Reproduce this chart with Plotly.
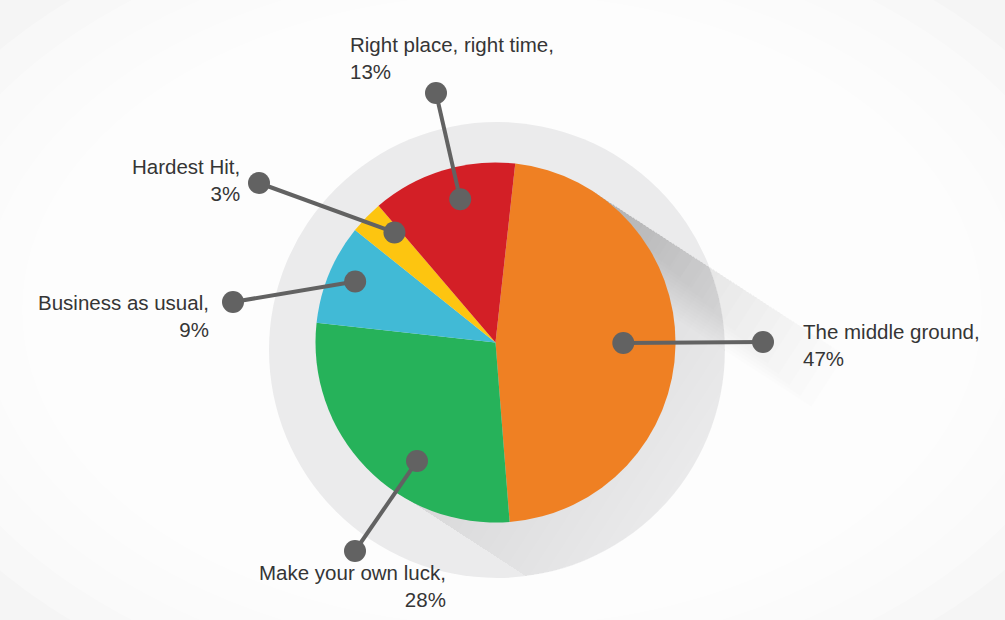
import math
import plotly.graph_objects as go

W, H = 1005, 620

# ---- data ----
labels = ["The middle ground", "Make your own luck", "Business as usual", "Hardest Hit", "Right place, right time"]
values = [47, 28, 9, 3, 13]
colors = ["#EF8023", "#26B25A", "#41BAD6", "#FDC510", "#D31F26"]

# ---- layout / styling ----
CX, CY, R = 495.5, 342.5, 180          # pie centre / radius in px
ROTATION = 6.3
DISC_CX, DISC_CY, DISC_R = 497, 350, 228
SHADOW_ANGLE = 33
anchor_frac = [0.496, 0.377, 0.53, 0.81, 0.57]   # where inside each slice the leader starts
anchor_rad = [0.71, 0.79, 0.85, 0.83, 0.82]
outer_pts = [(763, 342), (355, 551), (233, 302), (259, 183), (436, 93)]
label_pos = [(801, 345, "left"), (448, 586, "right"), (211, 316, "right"), (242, 180, "right"), (348, 58, "left")]
DOT = 11
LINE_COL = "#626262"
TEXT_COL = "#353535"


def px(x):
    return x / W


def py(y):
    return 1 - y / H


def circle(cx, cy, r, color, layer="below"):
    return dict(type="circle", xref="paper", yref="paper",
                x0=px(cx - r), x1=px(cx + r), y0=py(cy + r), y1=py(cy - r),
                fillcolor=color, line=dict(width=0), layer=layer)


def poly_path(pts):
    return "M " + " L ".join(f"{px(x):.5f},{py(y):.5f}" for x, y in pts) + " Z"


def area(p):
    return sum(p[i][0] * p[(i + 1) % len(p)][1] - p[(i + 1) % len(p)][0] * p[i][1] for i in range(len(p))) / 2


def clip(subject, clipper):
    """Sutherland-Hodgman clipping of subject by convex clipper."""
    sgn = 1 if area(clipper) > 0 else -1

    def inside(p, a, b):
        return sgn * ((b[0] - a[0]) * (p[1] - a[1]) - (b[1] - a[1]) * (p[0] - a[0])) >= 0

    def inter(p, q, a, b):
        x1, y1, x2, y2 = p[0], p[1], q[0], q[1]
        x3, y3, x4, y4 = a[0], a[1], b[0], b[1]
        den = (x1 - x2) * (y3 - y4) - (y1 - y2) * (x3 - x4)
        t = ((x1 - x3) * (y3 - y4) - (y1 - y3) * (x3 - x4)) / den
        return (x1 + t * (x2 - x1), y1 + t * (y2 - y1))

    out = subject
    for i in range(len(clipper)):
        a, b = clipper[i], clipper[(i + 1) % len(clipper)]
        inp, out = out, []
        if not inp:
            break
        s = inp[-1]
        for e in inp:
            if inside(e, a, b):
                if not inside(s, a, b):
                    out.append(inter(s, e, a, b))
                out.append(e)
            elif inside(s, a, b):
                out.append(inter(s, e, a, b))
            s = e
    return out


shapes = []
# vignette
for k in range(6):
    rx = 640 - 40 * k
    ry = 420 - 26 * k
    shapes.append(dict(type="circle", xref="paper", yref="paper",
                       x0=px(502 - rx), x1=px(502 + rx), y0=py(310 + ry), y1=py(310 - ry),
                       fillcolor="rgba(255,255,255,0.3)", line=dict(width=0), layer="below"))
# grey disc
shapes.append(circle(DISC_CX, DISC_CY, DISC_R, "#EBEBEC"))

# long shadow
th = math.radians(SHADOW_ANGLE)
dx, dy = math.cos(th), math.sin(th)
nx, ny = -math.sin(th), math.cos(th)
tux, tuy = CX + R * math.sin(th), CY - R * math.cos(th)
tlx, tly = CX - R * math.sin(th), CY + R * math.cos(th)
disc_poly = [(DISC_CX + DISC_R * math.cos(2 * math.pi * j / 180),
              DISC_CY + DISC_R * math.sin(2 * math.pi * j / 180)) for j in range(180)]
N = 20
# part cast on the grey disc
for k in range(1, N + 1):
    L = 240 * k / N
    band = [(tux, tuy), (tux + L * dx, tuy + L * dy), (tlx + L * dx, tly + L * dy), (tlx, tly)]
    pts = clip(disc_poly, band)
    if len(pts) > 2:
        shapes.append(dict(type="path", xref="paper", yref="paper", path=poly_path(pts),
                           fillcolor="rgba(0,0,0,0.0058)", line=dict(width=0), layer="below"))
# softer part along the upper edge, spilling past the disc
for k in range(1, N + 1):
    L = 300 * k / N
    w = 62 * k / N
    pts = [(tux, tuy), (tux + L * dx, tuy + L * dy),
           (tux + L * dx + w * nx, tuy + L * dy + w * ny), (tux + w * nx, tuy + w * ny)]
    shapes.append(dict(type="path", xref="paper", yref="paper", path=poly_path(pts),
                       fillcolor="rgba(0,0,0,0.0078)", line=dict(width=0), layer="below"))

# leader lines
total = sum(values)
start = ROTATION
annotations = []
for i, v in enumerate(values):
    span = v / total * 360
    a = math.radians(start + anchor_frac[i] * span)
    start += span
    ix = CX + anchor_rad[i] * R * math.sin(a)
    iy = CY - anchor_rad[i] * R * math.cos(a)
    ox, oy = outer_pts[i]
    shapes.append(dict(type="line", xref="paper", yref="paper",
                       x0=px(ix), y0=py(iy), x1=px(ox), y1=py(oy),
                       line=dict(color=LINE_COL, width=4), layer="above"))
    shapes.append(circle(ix, iy, DOT, LINE_COL, "above"))
    shapes.append(circle(ox, oy, DOT, LINE_COL, "above"))
    lx, ly, al = label_pos[i]
    annotations.append(dict(xref="paper", yref="paper", x=px(lx), y=py(ly),
                            xanchor=al, yanchor="middle", align=al, showarrow=False,
                            text=f"{labels[i]},<br>{v}%",
                            font=dict(family="Liberation Sans, Arial, sans-serif", size=20.5, color=TEXT_COL)))

fig = go.Figure(go.Pie(
    labels=labels, values=values, sort=False, direction="clockwise", rotation=ROTATION,
    marker=dict(colors=colors, line=dict(width=0)), textinfo="none", hoverinfo="label+percent",
    showlegend=False,
    domain=dict(x=[px(CX - R), px(CX + R)], y=[py(CY + R), py(CY - R)]),
))
fig.update_layout(width=W, height=H, margin=dict(l=0, r=0, t=0, b=0), autosize=False,
                  paper_bgcolor="#F5F5F5", plot_bgcolor="rgba(0,0,0,0)",
                  shapes=shapes, annotations=annotations)
fig.write_html("out.html")
